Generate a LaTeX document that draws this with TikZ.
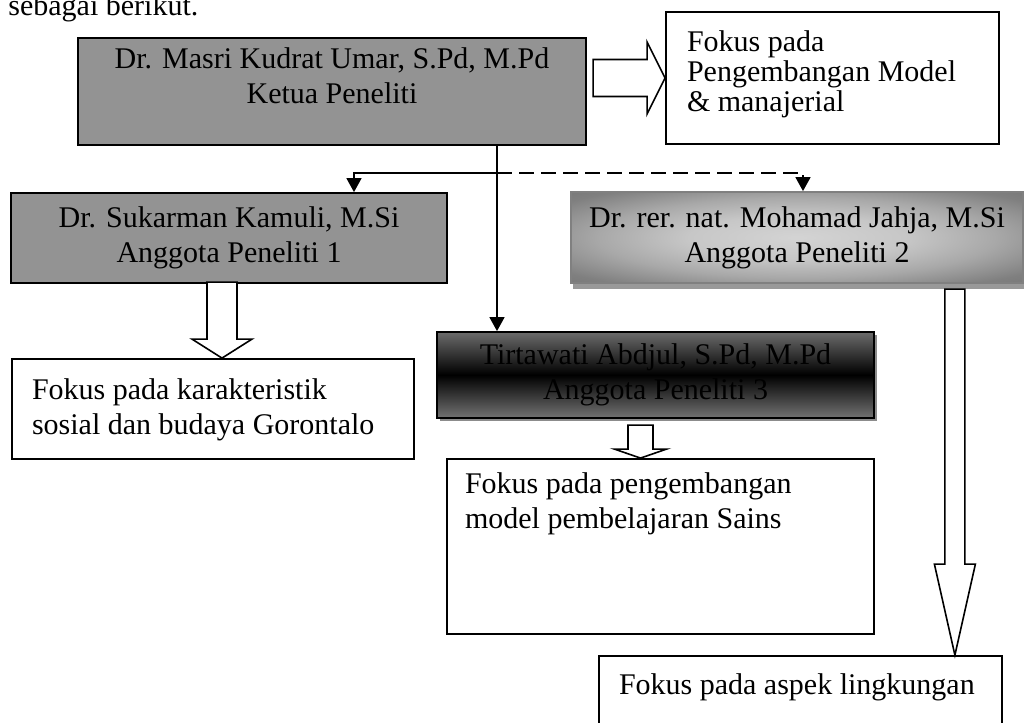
\documentclass[tikz,border=0pt]{standalone}
\usepackage{fontspec}
\setmainfont{Liberation Serif}
\usetikzlibrary{arrows.meta,shadows}
\definecolor{abu}{RGB}{147,147,147}
\pgfdeclareradialshading{jahja}{\pgfpoint{0bp}{0bp}}{color(0bp)=(black!17); color(12bp)=(black!22); color(22bp)=(black!34); color(32bp)=(black!50); color(50bp)=(black!62); color(72bp)=(black!70)}
\tikzset{
  kotak/.style={draw, line width=0.9pt, inner sep=0pt, font=\fontsize{15}{17.5}\selectfont},
  abu/.style={kotak, fill=abu},
  blok/.style={draw, fill=white, line width=0.8pt, line join=miter},
  garis/.style={line width=0.8pt},
  panah/.style={garis, -{Triangle[length=7pt,width=7.5pt]}}
}
\begin{document}
\begin{tikzpicture}[x=0.5pt, y=-0.5pt]
\useasboundingbox (0,0) rectangle (1025,723);
\node[font=\fontsize{15}{17.5}\selectfont, anchor=base west, inner sep=0pt] (judul) at (8,15) {sebagai berikut.};
\node[abu] (per0) at (332,91.5) {\parbox[c][53.5pt][t]{254pt}{\centering\vspace*{4.7pt}Dr. Masri Kudrat Umar, S.Pd, M.Pd\\Ketua Peneliti}};
\node[kotak] (fok0) at (832.5,78) {\parbox[c][66pt][t]{166.5pt}{\fontsize{15}{15}\selectfont\raggedright\leftskip=10.5pt\vspace*{9.5pt}Fokus pada\\Pengembangan Model\\\& manajerial}};
\node[abu] (per1) at (229,238) {\parbox[c][45pt][c]{218pt}{\centering Dr. Sukarman Kamuli, M.Si\\Anggota Peneliti 1}};
\node[kotak, draw=black!50, shade, shading=jahja] (per2) at (797,237.5) {\parbox[c][45.5pt][c]{226pt}{\centering Dr. rer. nat. Mohamad Jahja, M.Si\\Anggota Peneliti 2}};
\fill[black!40] ([xshift=1.5pt]per2.south west) rectangle ([yshift=-2.5pt]per2.south east);
\node[kotak, top color=black!58, bottom color=black!55, middle color=black, drop shadow={shadow xshift=1.5pt, shadow yshift=-1.5pt, fill=black!45, opacity=1}] (per3) at (655.5,375) {\parbox[c][43pt][c]{218.5pt}{\centering Tirtawati Abdjul, S.Pd, M.Pd\\Anggota Peneliti 3}};
\node[kotak] (fok1) at (213,409) {\parbox[c][50pt][t]{201pt}{\raggedright\leftskip=10pt\vspace*{9.7pt}Fokus pada karakteristik\\sosial dan budaya Gorontalo}};
\node[kotak] (fok2) at (660.5,546.5) {\parbox[c][87.5pt][t]{213.5pt}{\raggedright\leftskip=9pt\vspace*{6.7pt}Fokus pada pengembangan\\model pembelajaran Sains}};
\node[kotak] (fok3) at (800.5,706) {\parbox[c][50pt][t]{201.5pt}{\raggedright\leftskip=10pt\vspace*{8.7pt}Fokus pada aspek lingkungan}};
\coordinate (j0) at (497,173);
\coordinate (j1) at (354,173);
\coordinate (j2) at (803,173);
\draw[garis] (per0.south -| j0) -- (j0);
\draw[panah] (j0) -- (j0 |- per3.north);
\draw[panah] (j0) -| (j1 |- per1.north);
\draw[panah, dash pattern=on 7.5pt off 3.5pt] (j0) -| (j2 |- per2.north);
\draw[blok] (fok0.west) -- ++(-18,-36) -- ++(0,17.5) -- ++(-54,0) -- ++(0,37) -- ++(54,0) -- ++(0,17.5) -- cycle;
\draw[blok] ([xshift=4.5pt]fok1.north) -- ++(30,-19) -- ++(-15,0) -- ++(0,-57) -- ++(-30,0) -- ++(0,57) -- ++(-15,0) -- cycle;
\draw[blok] ([xshift=-10pt]fok2.north) -- ++(26,-9) -- ++(-13.5,0) -- ++(0,-24) -- ++(-25,0) -- ++(0,24) -- ++(-13.5,0) -- cycle;
\draw[blok] ([xshift=-24pt]fok3.north east) -- ++(20.5,-91) -- ++(-10.5,0) -- ++(0,-275) -- ++(-20,0) -- ++(0,275) -- ++(-10.5,0) -- cycle;

\end{tikzpicture}
\end{document}
